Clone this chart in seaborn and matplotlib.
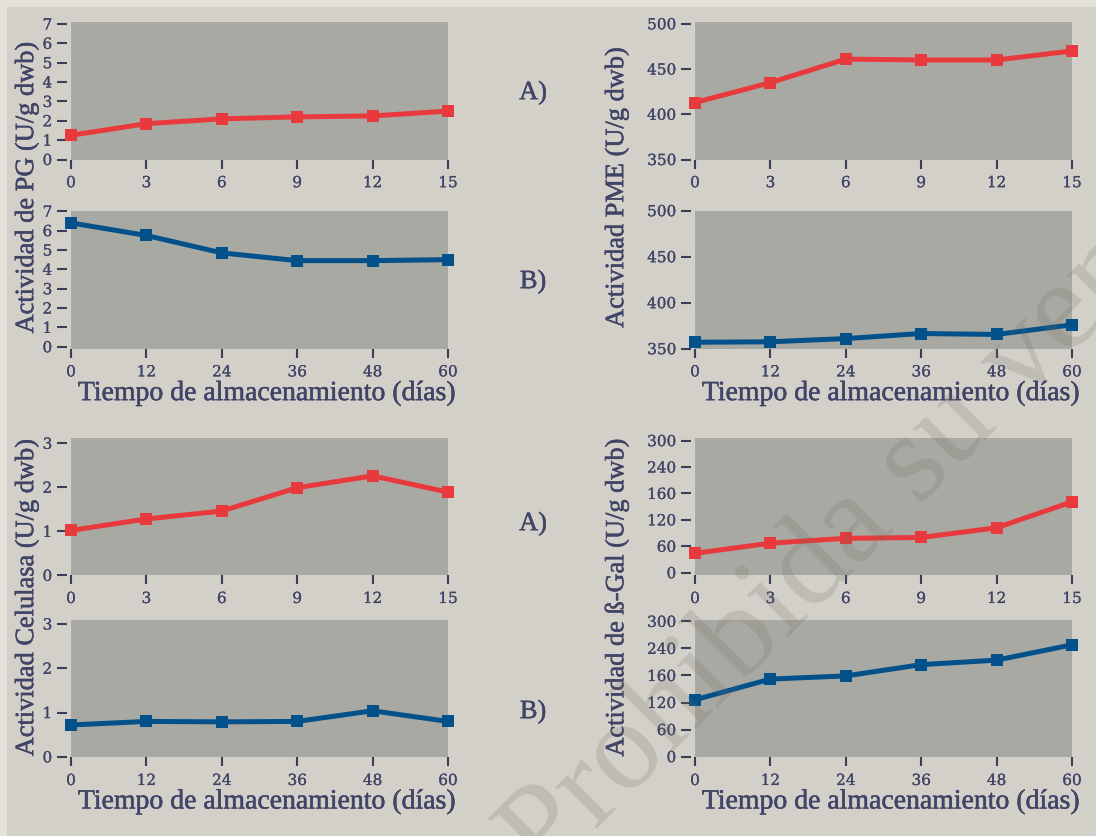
import seaborn as sns
import matplotlib.pyplot as plt
import matplotlib.patheffects as pe
from matplotlib.patches import Rectangle

# Datos
dias_cortos = [0, 3, 6, 9, 12, 15]
dias_largos = [0, 12, 24, 36, 48, 60]

pg_a = [1.25, 1.85, 2.1, 2.2, 2.25, 2.5]
pg_b = [6.4, 5.75, 4.85, 4.45, 4.45, 4.5]
pme_a = [413, 435, 461, 460, 460, 470]
pme_b = [357, 357.5, 361, 366.5, 365.5, 376]
cel_a = [1.02, 1.28, 1.46, 1.99, 2.26, 1.89]
cel_b = [0.72, 0.8, 0.79, 0.8, 1.04, 0.8]
gal_a = [44, 67, 78, 80, 102, 161]
gal_b = [126, 172, 179, 204, 214, 248]

pg_ticks = [0, 1, 2, 3, 4, 5, 6, 7]
pme_ticks = [350, 400, 450, 500]
cel_ticks = [0, 1, 2, 3]
gal_ticks = [0, 60, 120, 180, 240, 300]
gal_tick_labels = ['0', '60', '120', '160', '240', '300']

xlabel = 'Tiempo de almacenamiento (días)'
ylabels = ['Actividad de PG (U/g dwb)', 'Actividad PME (U/g dwb)',
           'Actividad Celulasa (U/g dwb)', 'Actividad de ß-Gal (U/g dwb)']

rojo = '#e83a3c'
azul = '#02518b'
texto = '#404466'
marca = '#3b3e5b'
serif = ['Liberation Serif', 'DejaVu Serif']

sns.set_style('white')
plt.rcParams['font.family'] = 'DejaVu Serif'

grueso = [pe.withStroke(linewidth=0.35, foreground=texto)]
fino = [pe.withStroke(linewidth=0.15, foreground=texto)]

W, H = 1096, 836
fig = plt.figure(figsize=(W / 100, H / 100), dpi=100)
fig.patch.set_facecolor('#e5e2db')
fig.patches.append(Rectangle((7 / W, 0), 1 - 7 / W, 1 - 7 / H, transform=fig.transFigure,
                             facecolor='#d2d0c8', edgecolor='none', zorder=-10))


def px_rect(x0, y0, x1, y1):
    return [x0 / W, 1 - y1 / H, (x1 - x0) / W, (y1 - y0) / H]


# (caja en px, x, y, color, yticks, ylim, etiquetas y, tiene xlabel)
paneles = [
    ((71, 22, 448, 159.5), dias_cortos, pg_a, rojo, pg_ticks, (0, 7.1), None, False),
    ((71, 210.7, 448, 348.7), dias_largos, pg_b, azul, pg_ticks, (-0.1, 7.03), None, True),
    ((695, 22, 1072, 159.5), dias_cortos, pme_a, rojo, pme_ticks, (350, 502), None, False),
    ((695, 210.7, 1072, 348.7), dias_largos, pme_b, azul, pme_ticks, (350, 500), None, True),
    ((71, 438, 448, 575.3), dias_cortos, cel_a, rojo, cel_ticks, (0, 3.12), None, False),
    ((71, 620, 448, 757.3), dias_largos, cel_b, azul, cel_ticks, (-0.01, 3.09), None, True),
    ((695, 438, 1072, 575.3), dias_cortos, gal_a, rojo, gal_ticks, (-6, 306), gal_tick_labels, False),
    ((695, 620, 1072, 757.3), dias_largos, gal_b, azul, gal_ticks, (-1.5, 303), gal_tick_labels, True),
]

for caja, x, y, color, yticks, ylim, ylabs, con_xlabel in paneles:
    ax = fig.add_axes(px_rect(*caja))
    ax.set_facecolor('#a9a9a3')
    sns.lineplot(x=x, y=y, ax=ax, color=color, marker='s', markersize=8,
                 linewidth=3.6, markeredgewidth=0, clip_on=False, zorder=3)
    for s in ax.spines.values():
        s.set_visible(False)
    ax.spines['left'].set_position(('outward', 3))
    ax.set_xlim(0, x[-1])
    ax.set_ylim(*ylim)
    ax.set_xticks(x)
    ax.set_yticks(yticks)
    if ylabs:
        ax.set_yticklabels(ylabs)
    ax.tick_params(axis='y', direction='out', length=7, width=1.5, color=marca,
                   labelcolor=texto, labelsize=11, pad=3.5, left=True)
    ax.tick_params(axis='x', direction='out', length=6.5, width=1.5, color=marca,
                   labelcolor=texto, labelsize=11, pad=5.5, bottom=True)
    for t in ax.get_xticklabels() + ax.get_yticklabels():
        t.set_path_effects(fino)
    ax.grid(False)
    if con_xlabel:
        ax.set_xlabel(xlabel, fontsize=20, color=texto, family=serif)
        ax.xaxis.set_label_coords(0.52, -0.325)
        ax.xaxis.label.set_va('center')
        ax.xaxis.label.set_path_effects(grueso)
    else:
        ax.set_xlabel('')
    ax.set_ylabel('')

# etiquetas del eje y compartidas
for (cx, cy), lab in zip([(27, 187.5), (617, 187.5), (27, 597.5), (617, 597.5)], ylabels):
    fig.text(cx / W, 1 - cy / H, lab, rotation=90, ha='center', va='center',
             fontsize=19, color=texto, family=serif, path_effects=grueso)

# letras de los paneles
for cy, letra in zip([93, 282, 524, 712], ['A)', 'B)', 'A)', 'B)']):
    fig.text(533 / W, 1 - cy / H, letra, ha='center', va='center',
             fontsize=19, color=texto, family=serif, path_effects=grueso)

# marca de agua
fig.text(545 / W, 1 - 880 / H, 'Prohibida su venta', rotation=45, rotation_mode='anchor',
         ha='left', va='baseline', fontsize=92, color='#6f6c64', alpha=0.2,
         family=serif)

fig.savefig('out.png', dpi=100, facecolor=fig.get_facecolor())
